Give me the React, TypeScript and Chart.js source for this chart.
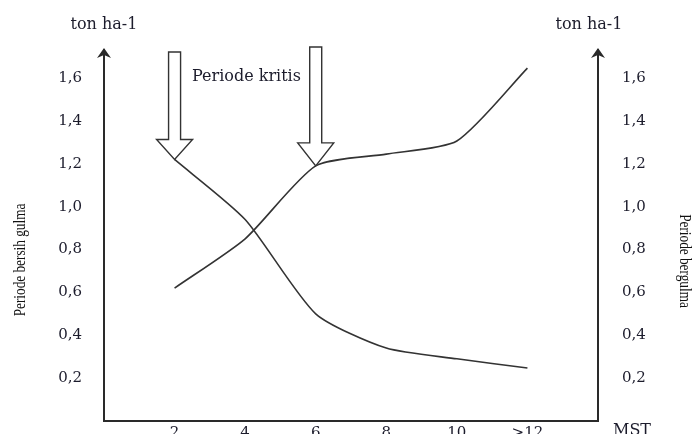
import React, { useEffect, useRef } from "react";
import { Chart, registerables } from "chart.js";

Chart.register(...registerables);

const categories = [2, 4, 6, 8, 10, 12];
const xTickLabels = ["2", "4", "6", "8", "10", ">12"];
const bersihGulma = [1.22, 0.94, 0.5, 0.34, 0.29, 0.247];
const bergulma = [0.62, 0.85, 1.19, 1.245, 1.306, 1.646];
const yTicks = [0.2, 0.4, 0.6, 0.8, 1.0, 1.2, 1.4, 1.6];

const W = 693;
const H = 434;
const LINE = "#333333";
const AXIS = "#2a2a2a";
const TEXT = "#1c1c2c";

const decorPlugin = {
  id: "decor",
  afterDraw(chart: any) {
    const ctx = chart.ctx as CanvasRenderingContext2D;
    const ca = chart.chartArea;
    const xs = chart.scales.x;
    const ys = chart.scales.y;
    ctx.save();

    const arrowHead = (x: number) => {
      ctx.fillStyle = AXIS;
      ctx.strokeStyle = AXIS;
      ctx.lineWidth = 2;
      ctx.beginPath();
      ctx.moveTo(x, ca.top);
      ctx.lineTo(x, ca.top + 10);
      ctx.stroke();
      ctx.beginPath();
      ctx.moveTo(x, 48);
      ctx.lineTo(x - 7, 58);
      ctx.lineTo(x, 55);
      ctx.lineTo(x + 7, 58);
      ctx.closePath();
      ctx.fill();
    };
    arrowHead(ca.left);
    arrowHead(ca.right);

    const hollowArrow = (tipX: number, tipY: number, topY: number, headH: number) => {
      const sw = 6;
      const hw = 18;
      ctx.fillStyle = "#ffffff";
      ctx.strokeStyle = "#333333";
      ctx.lineWidth = 1.4;
      ctx.beginPath();
      ctx.moveTo(tipX - sw, topY);
      ctx.lineTo(tipX + sw, topY);
      ctx.lineTo(tipX + sw, tipY - headH);
      ctx.lineTo(tipX + hw, tipY - headH);
      ctx.lineTo(tipX, tipY);
      ctx.lineTo(tipX - hw, tipY - headH);
      ctx.lineTo(tipX - sw, tipY - headH);
      ctx.closePath();
      ctx.fill();
      ctx.stroke();
    };
    hollowArrow(xs.getPixelForValue(categories[0]), ys.getPixelForValue(bersihGulma[0]), 52, 20);
    hollowArrow(xs.getPixelForValue(categories[2]), ys.getPixelForValue(bergulma[2]), 47, 23);

    ctx.fillStyle = TEXT;
    ctx.font = "16px 'DejaVu Serif'";
    ctx.textBaseline = "middle";
    ctx.textAlign = "center";
    ctx.fillText("ton ha-1", ca.left, 25);
    ctx.fillText("ton ha-1", ca.right - 9, 25);
    ctx.textAlign = "left";
    ctx.fillText("Periode kritis", 192, 77);
    ctx.textBaseline = "top";
    ctx.fillText("MST", 613, 423);

    ctx.fillStyle = "#111111";
    ctx.font = "17px 'Liberation Serif'";
    ctx.textAlign = "center";
    ctx.textBaseline = "middle";
    ctx.save();
    ctx.translate(21, 260);
    ctx.rotate(-Math.PI / 2);
    ctx.scale(0.78, 1);
    ctx.fillText("Periode bersih gulma", 0, 0);
    ctx.restore();
    ctx.save();
    ctx.translate(684, 261);
    ctx.rotate(Math.PI / 2);
    ctx.scale(0.78, 1);
    ctx.fillText("Periode bergulma", 0, 0);
    ctx.restore();

    ctx.restore();
  },
};

export default function App() {
  const ref = useRef<HTMLCanvasElement | null>(null);

  useEffect(() => {
    if (!ref.current) return;
    const tickFont = { family: "'DejaVu Serif'", size: 15 };
    const yMax = 1.7306;
    const yTickCb = (v: any) => Number(v).toFixed(1).replace(".", ",");
    const fitY = (w: number) => (s: any) => {
      s.width = w;
      s.paddingTop = 0;
      s.paddingBottom = 0;
    };
    const chart = new Chart(ref.current, {
      type: "line",
      data: {
        datasets: [
          {
            label: "Periode bersih gulma",
            data: categories.map((c, i) => ({ x: c, y: bersihGulma[i] })),
            borderColor: LINE,
            borderWidth: 1.6,
            pointRadius: 0,
            tension: 0.22,
            fill: false,
          },
          {
            label: "Periode bergulma",
            data: categories.map((c, i) => ({ x: c, y: bergulma[i] })),
            borderColor: LINE,
            borderWidth: 1.6,
            pointRadius: 0,
            tension: 0.22,
            fill: false,
          },
        ],
      },
      options: {
        responsive: false,
        animation: false,
        devicePixelRatio: 1,
        layout: { padding: { top: 50, left: 0, right: 0, bottom: 0 } },
        plugins: { legend: { display: false }, tooltip: { enabled: false } },
        scales: {
          x: {
            type: "linear",
            min: 0,
            max: 14,
            position: "bottom",
            grid: { display: false, drawTicks: false, tickLength: 0 },
            border: { display: true, color: AXIS, width: 2 },
            afterBuildTicks: (s: any) => {
              s.ticks = categories.map((v) => ({ value: v }));
            },
            afterFit: (s: any) => {
              s.height = 13;
              s.paddingLeft = 0;
              s.paddingRight = 0;
            },
            ticks: {
              font: tickFont,
              color: TEXT,
              padding: 3,
              maxRotation: 0,
              autoSkip: false,
              callback: (v: any) => {
                const i = categories.indexOf(Number(v));
                return i >= 0 ? xTickLabels[i] : "";
              },
            },
          },
          y: {
            type: "linear",
            min: 0,
            max: yMax,
            position: "left",
            grid: { display: false, drawTicks: false, tickLength: 0 },
            border: { display: true, color: AXIS, width: 2 },
            afterBuildTicks: (s: any) => {
              s.ticks = yTicks.map((v) => ({ value: v }));
            },
            afterFit: fitY(104),
            ticks: { font: tickFont, color: TEXT, padding: 22, callback: yTickCb },
          },
          y1: {
            type: "linear",
            min: 0,
            max: yMax,
            position: "right",
            grid: { display: false, drawTicks: false, tickLength: 0 },
            border: { display: true, color: AXIS, width: 2 },
            afterBuildTicks: (s: any) => {
              s.ticks = yTicks.map((v) => ({ value: v }));
            },
            afterFit: fitY(W - 598),
            ticks: { font: tickFont, color: TEXT, padding: 24, callback: yTickCb },
          },
        },
      } as any,
      plugins: [decorPlugin],
    });
    return () => chart.destroy();
  }, []);

  return (
    <div style={{ position: "absolute", left: 0, top: 0, width: W, height: H, background: "#fff" }}>
      <canvas ref={ref} width={W} height={H} style={{ width: W, height: H, display: "block" }} />
    </div>
  );
}
